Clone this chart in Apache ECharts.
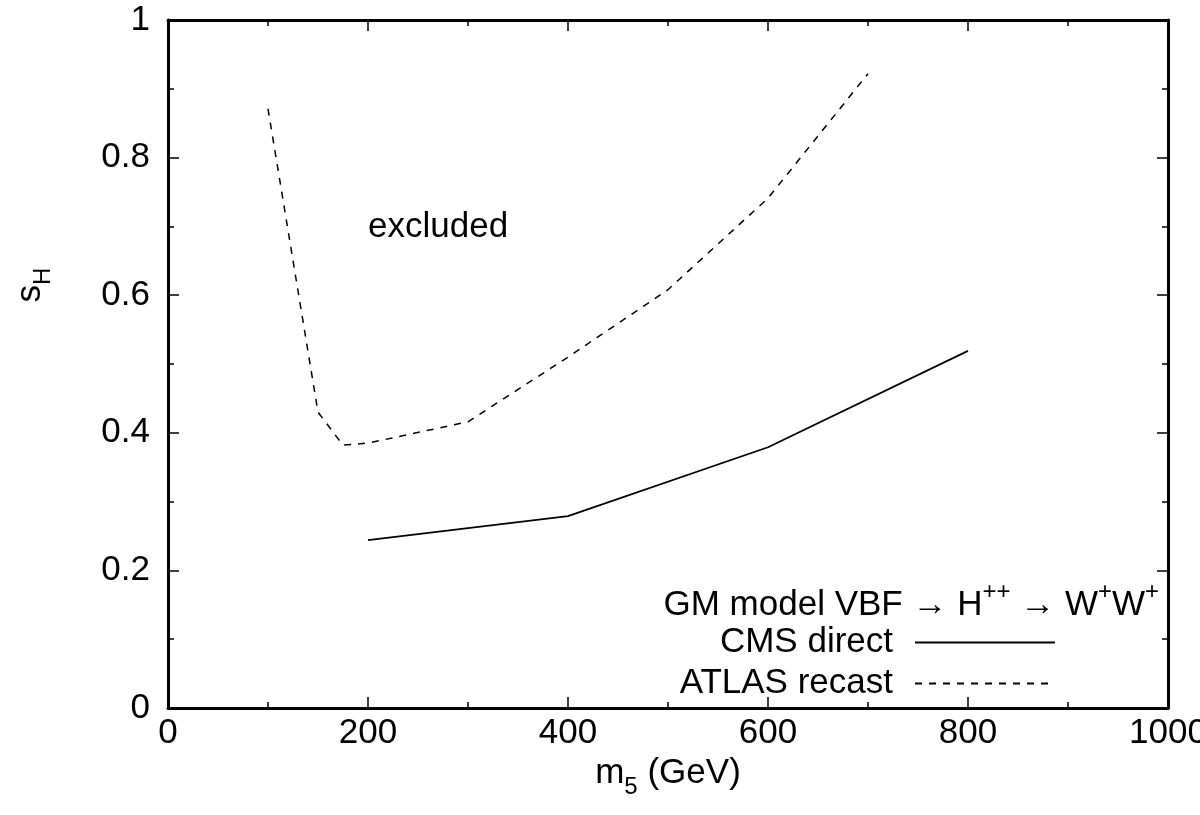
<!DOCTYPE html>
<html>
<head>
<meta charset="utf-8">
<script src="https://cdn.jsdelivr.net/npm/echarts@6/dist/echarts.min.js"></script>
<style>html,body{margin:0;padding:0;background:#fff}#c{width:1200px;height:815px}</style>
</head>
<body>
<div id="c"></div>
<script>
// ---- data ----
const cmsM5 = [200, 400, 600, 800];
const cmsSH = [0.244, 0.279, 0.379, 0.519];
const atlasM5 = [100, 150, 175, 200, 300, 400, 500, 600, 700];
const atlasSH = [0.871, 0.430, 0.382, 0.385, 0.416, 0.510, 0.608, 0.741, 0.922];
const seriesNames = ['CMS direct', 'ATLAS recast'];
const xTicks = [0, 200, 400, 600, 800, 1000];
const yTicks = [0, 0.2, 0.4, 0.6, 0.8, 1];

const FONT = "'Liberation Sans', Arial, Helvetica, sans-serif";
const FS = 35;
const SUB = 24;
const chart = echarts.init(document.getElementById('c'));

const axisCommon = {
  axisLine: { show: true, onZero: false, lineStyle: { color: '#000', width: 3 } },
  axisTick: { show: true, inside: true, length: 11, lineStyle: { color: '#000', width: 1.5 } },
  minorTick: { show: true, splitNumber: 2, length: 6, lineStyle: { color: '#000', width: 1.5 } },
  splitLine: { show: false },
};

chart.setOption({
  animation: false,
  backgroundColor: '#fff',
  textStyle: { fontFamily: FONT },
  grid: { left: 168, right: 32, top: 20, bottom: 107, containLabel: false, outerBoundsMode: 'none' },
  xAxis: [
    Object.assign({}, axisCommon, {
      type: 'value', position: 'bottom', min: xTicks[0], max: xTicks[xTicks.length - 1], interval: 200,
      axisLabel: { show: true, color: '#000', fontSize: FS, fontFamily: FONT, margin: 8, hideOverlap: false,
        showMaxLabel: true, showMinLabel: true, formatter: v => String(v) },
      name: '{a|m}{b|5}{a| (GeV)}', nameLocation: 'middle', nameGap: 41,
      nameTextStyle: {
        rich: {
          a: { fontSize: FS, fontFamily: FONT, color: '#000', lineHeight: 35, verticalAlign: 'top' },
          b: { fontSize: SUB, fontFamily: FONT, color: '#000', lineHeight: 24, padding: [19, 0, 0, 0], verticalAlign: 'top' }
        }
      }
    }),
    Object.assign({}, axisCommon, {
      type: 'value', position: 'top', min: xTicks[0], max: xTicks[xTicks.length - 1], interval: 200,
      axisLabel: { show: false }
    })
  ],
  yAxis: [
    Object.assign({}, axisCommon, {
      type: 'value', position: 'left', min: yTicks[0], max: yTicks[yTicks.length - 1], interval: 0.2,
      axisLabel: { show: true, color: '#000', fontSize: FS, fontFamily: FONT, margin: 18, padding: [6, 0, 0, 0],
        formatter: v => (v === 0 ? '0' : v === 1 ? '1' : v.toFixed(1)) }
    }),
    Object.assign({}, axisCommon, {
      type: 'value', position: 'right', min: yTicks[0], max: yTicks[yTicks.length - 1], interval: 0.2,
      axisLabel: { show: false }
    })
  ],
  legend: {
    data: seriesNames,
    orient: 'vertical',
    align: 'right',
    right: 139,
    top: 620,
    itemWidth: 140,
    itemHeight: 14,
    itemGap: 6,
    selectedMode: false,
    itemStyle: { opacity: 0 },
    textStyle: { fontSize: FS, fontFamily: FONT, color: '#000', lineHeight: 35, padding: [0, 17, 0, 0] }
  },
  graphic: [
    {
      type: 'text', left: 368, top: 210,
      style: { text: 'excluded', font: FS + 'px ' + FONT, fill: '#000' }
    },
    {
      type: 'text', x: 30, y: 285, rotation: Math.PI / 2,
      style: {
        text: '{a|s}{b|H}', align: 'center', verticalAlign: 'middle', fill: '#000',
        rich: {
          a: { fontSize: FS, fontFamily: FONT, lineHeight: 35, verticalAlign: 'top' },
          b: { fontSize: SUB, fontFamily: FONT, lineHeight: 24, padding: [19, 0, 0, 0], verticalAlign: 'top' }
        }
      }
    },
    {
      type: 'text', right: 41, top: 580,
      style: {
        text: '{a|GM model VBF → H}{p|++}{a| → W}{p|+}{a|W}{p|+}',
        fill: '#000',
        rich: {
          a: { fontSize: FS, fontFamily: FONT, lineHeight: 35, padding: [8, 0, 0, 0], verticalAlign: 'top' },
          p: { fontSize: SUB, fontFamily: FONT, lineHeight: 24, verticalAlign: 'top' }
        }
      }
    }
  ],
  series: [
    {
      name: seriesNames[0], type: 'line', xAxisIndex: 0, yAxisIndex: 0,
      data: cmsM5.map((m, i) => [m, cmsSH[i]]),
      symbol: 'none', lineStyle: { color: '#000', width: 1.8, type: 'solid' }, itemStyle: { color: '#000' }
    },
    {
      name: seriesNames[1], type: 'line', xAxisIndex: 0, yAxisIndex: 0,
      data: atlasM5.map((m, i) => [m, atlasSH[i]]),
      symbol: 'none', lineStyle: { color: '#000', width: 1.5, type: [7, 7] }, itemStyle: { color: '#000' }
    }
  ]
});
</script>
</body>
</html>
